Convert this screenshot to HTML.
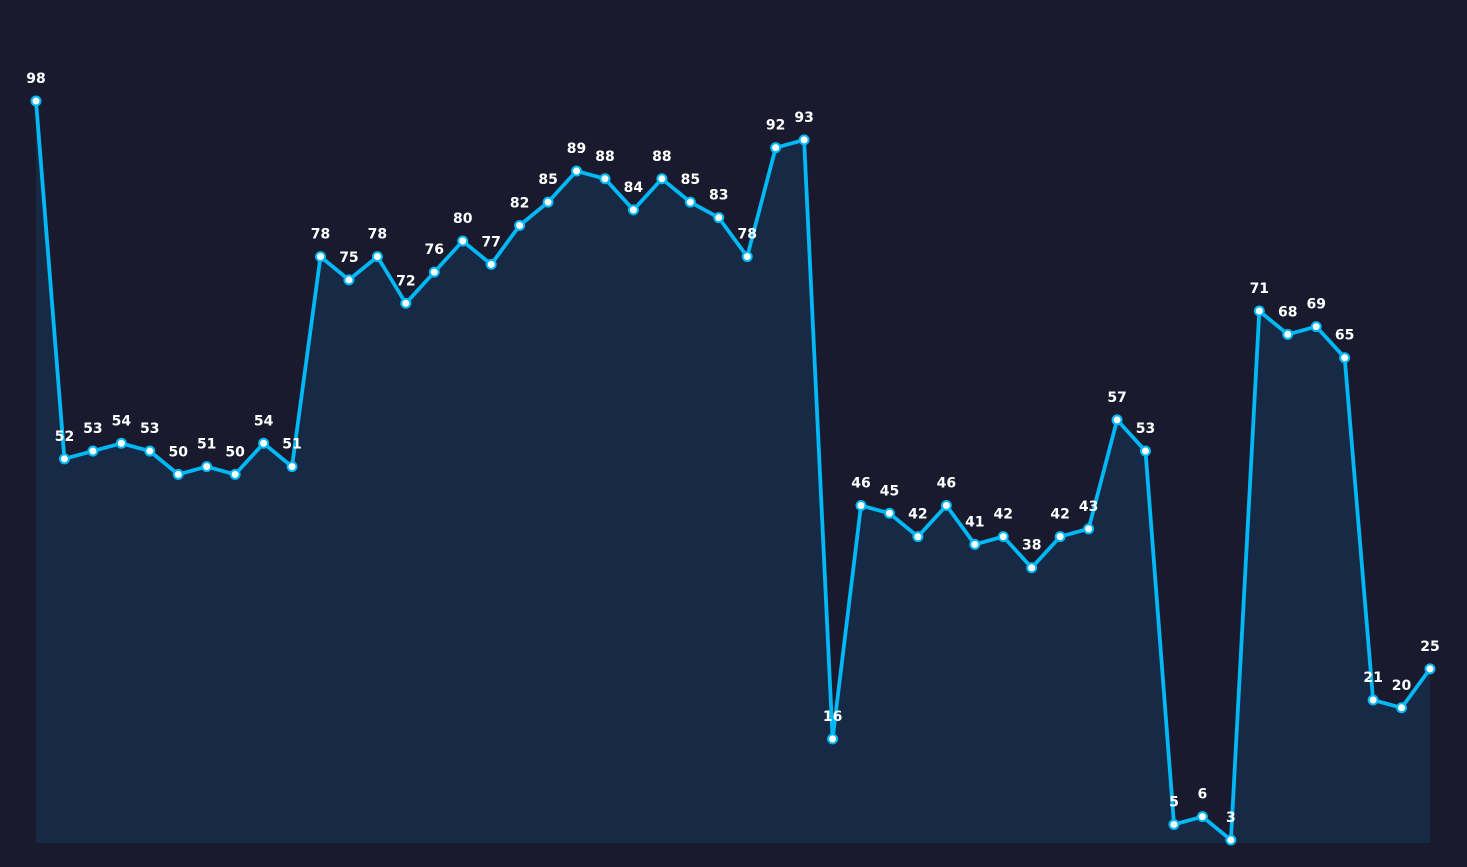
<!DOCTYPE html>
<html><head><meta charset="utf-8"><style>
html,body{margin:0;padding:0;background:#1a1a2e;}
svg{display:block;}
text{font-family:"DejaVu Sans","Liberation Sans",sans-serif;font-weight:bold;font-size:14px;fill:#ffffff;text-anchor:middle;}
</style></head><body>
<svg id="chart" width="1467" height="867" viewBox="0 0 1467 867">
<rect width="1467" height="867" fill="#1a1a2e"/>
<g id="g"></g>
</svg>
<script>
const values = [98,52,53,54,53,50,51,50,54,51,78,75,78,72,76,80,77,82,85,89,88,84,88,85,83,78,92,93,16,46,45,42,46,41,42,38,42,43,57,53,5,6,3,71,68,69,65,21,20,25];
const labels = values.map(String);
const NS='http://www.w3.org/2000/svg';
const x0=36,x1=1430,yTop=101,vTop=98,vBot=3,yBotPx=840,base=843;
function xs(i){return x0+i*(x1-x0)/(values.length-1);}
function ys(v){return yTop+(vTop-v)*(yBotPx-yTop)/(vTop-vBot);}
const g=document.getElementById('g');
let pts=values.map((v,i)=>xs(i).toFixed(1)+','+ys(v).toFixed(1));
const area=document.createElementNS(NS,'path');
area.setAttribute('d','M'+xs(0)+','+base+' L'+pts.join(' L')+' L'+xs(values.length-1)+','+base+' Z');
area.setAttribute('fill','#172a45');


g.appendChild(area);
const line=document.createElementNS(NS,'polyline');
line.setAttribute('points',pts.join(' '));
line.setAttribute('fill','none');line.setAttribute('stroke','#00b8f5');line.setAttribute('stroke-width','3.8');line.setAttribute('stroke-linejoin','round');


g.appendChild(line);
values.forEach((v,i)=>{
 const c=document.createElementNS(NS,'circle');
 c.setAttribute('cx',xs(i));c.setAttribute('cy',ys(v));c.setAttribute('r','4.5');
 c.setAttribute('fill','#ffffff');c.setAttribute('stroke','#00b8f5');c.setAttribute('stroke-width','2');
 
 
 g.appendChild(c);
 const t=document.createElementNS(NS,'text');
 t.setAttribute('x',xs(i));t.setAttribute('y',ys(v)-18);
 t.textContent=labels[i];
 
 
 g.appendChild(t);
});
</script>
</body></html>
